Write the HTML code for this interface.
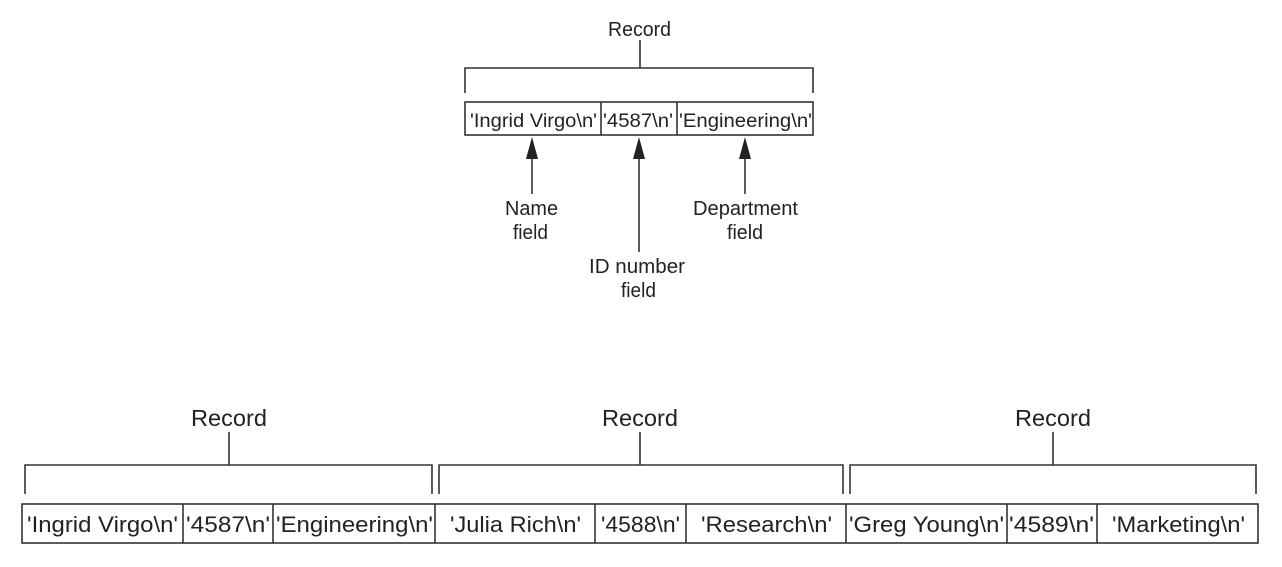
<!DOCTYPE html>
<html><head><meta charset="utf-8"><style>
html,body{margin:0;padding:0;background:#fff;}
svg{display:block;}
text{font-family:"Liberation Sans",Arial,sans-serif;fill:#222;}
.l{stroke:#333;stroke-width:1.6;fill:none;}
</style></head><body>
<svg width="1282" height="567" viewBox="0 0 1282 567">
<g>
  <text x="608" y="36" font-size="20" textLength="63" lengthAdjust="spacingAndGlyphs">Record</text>
  <path class="l" d="M640 40 V68 M465 93 V68 H813 V93"/>
  <rect class="l" x="465" y="102" width="348" height="33"/>
  <path class="l" d="M601 102 V135 M677 102 V135"/>
  <text x="470" y="127" font-size="19" textLength="127" lengthAdjust="spacingAndGlyphs">'Ingrid Virgo\n'</text>
  <text x="603" y="127" font-size="19" textLength="70" lengthAdjust="spacingAndGlyphs">'4587\n'</text>
  <text x="679" y="127" font-size="19" textLength="133" lengthAdjust="spacingAndGlyphs">'Engineering\n'</text>
  <g>
    <path class="l" d="M532 157 V194 M639 157 V252 M745 157 V194"/>
    <path d="M532 137 L526 159 L538 159Z M639 137 L633 159 L645 159Z M745 137 L739 159 L751 159Z" fill="#222"/>
  </g>
  <text x="505" y="215" font-size="20" textLength="53" lengthAdjust="spacingAndGlyphs">Name</text>
  <text x="513" y="239" font-size="20" textLength="35" lengthAdjust="spacingAndGlyphs">field</text>
  <text x="693" y="215" font-size="20" textLength="105" lengthAdjust="spacingAndGlyphs">Department</text>
  <text x="727" y="239" font-size="20" textLength="36" lengthAdjust="spacingAndGlyphs">field</text>
  <text x="589" y="273" font-size="20" textLength="96" lengthAdjust="spacingAndGlyphs">ID number</text>
  <text x="621" y="297" font-size="20" textLength="35" lengthAdjust="spacingAndGlyphs">field</text>
</g>
<g>
  <text x="191" y="426" font-size="23" textLength="76" lengthAdjust="spacingAndGlyphs">Record</text>
  <text x="602" y="426" font-size="23" textLength="76" lengthAdjust="spacingAndGlyphs">Record</text>
  <text x="1015" y="426" font-size="23" textLength="76" lengthAdjust="spacingAndGlyphs">Record</text>
  <path class="l" d="M229 432 V465 M25 494 V465 H432 V494"/>
  <path class="l" d="M640 432 V465 M439 494 V465 H843 V494"/>
  <path class="l" d="M1053 432 V465 M850 494 V465 H1256 V494"/>
  <rect class="l" x="22" y="504" width="1236" height="39"/>
  <path class="l" d="M183 504V543 M273 504V543 M435 504V543 M595 504V543 M686 504V543 M846 504V543 M1007 504V543 M1097 504V543"/>
  <g font-size="22">
  <text x="27" y="532" textLength="151" lengthAdjust="spacingAndGlyphs">'Ingrid Virgo\n'</text>
  <text x="186" y="532" textLength="84" lengthAdjust="spacingAndGlyphs">'4587\n'</text>
  <text x="276" y="532" textLength="157" lengthAdjust="spacingAndGlyphs">'Engineering\n'</text>
  <text x="450" y="532" textLength="131" lengthAdjust="spacingAndGlyphs">'Julia Rich\n'</text>
  <text x="601" y="532" textLength="79" lengthAdjust="spacingAndGlyphs">'4588\n'</text>
  <text x="701" y="532" textLength="131" lengthAdjust="spacingAndGlyphs">'Research\n'</text>
  <text x="849" y="532" textLength="155" lengthAdjust="spacingAndGlyphs">'Greg Young\n'</text>
  <text x="1009" y="532" textLength="85" lengthAdjust="spacingAndGlyphs">'4589\n'</text>
  <text x="1112" y="532" textLength="133" lengthAdjust="spacingAndGlyphs">'Marketing\n'</text>
  </g>
</g>
</svg>
</body></html>
